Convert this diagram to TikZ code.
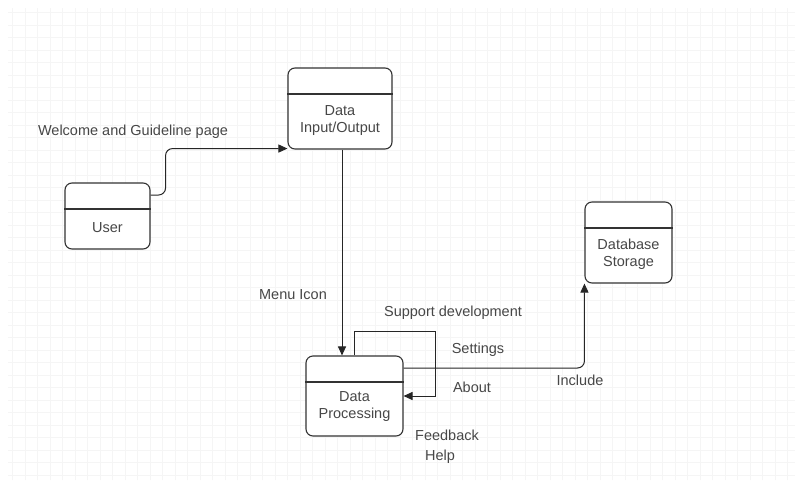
\documentclass[tikz,border=0pt]{standalone}
\usepackage{fontspec}
\setmainfont{Liberation Sans}
\usetikzlibrary{arrows.meta}

\begin{document}
\begin{tikzpicture}[
                x=1pt, y=-1pt,
                every node/.style={font=\fontsize{14.5}{17}\selectfont, text=black!72},
                procbox/.style={draw=black!80, line width=1.1pt, rounded corners=7pt, fill=white, inner sep=0pt},
                flow/.style={draw=black!85, line width=1pt, -{Triangle[length=9pt,width=8pt]}},
                note/.style={align=center}
            ]

            \useasboundingbox (0,0) rectangle (801,501);
            \fill[white] (0,0) rectangle (801,501);
            \draw[black!4, line width=0.6pt] (8,8) grid[step=12.5pt] (795,480);

            \node[procbox, minimum width=85pt, minimum height=66pt,
                label={[yshift=-12pt, align=center]center:User}] (user) at (107.5,216) {};
            \node[procbox, minimum width=104pt, minimum height=81pt,
                label={[yshift=-12pt, align=center]center:Data\\Input/Output}] (io) at (340,108.5) {};
            \node[procbox, minimum width=87pt, minimum height=81pt,
                label={[yshift=-12pt, align=center]center:Database\\Storage}] (db) at (628.5,242.5) {};
            \node[procbox, minimum width=97pt, minimum height=80pt,
                label={[yshift=-11pt, align=center]center:Data\\Processing}] (proc) at (354.5,396) {};

            \foreach \n in {user,io,db,proc}
                \draw[black!80, line width=1.1pt] ([yshift=-26.5pt]\n.north west) -- ([yshift=-26.5pt]\n.north east);

            \draw[flow, rounded corners=7pt] ([yshift=21pt]user.east) -- ++(15,0) |- ([yshift=1pt]io.south west);
            \draw[flow] ([xshift=2pt]io.south) -- ([xshift=2pt]io.south |- proc.north);
            \draw[flow] (proc.north) -- ++(0,-24) -- ++(81,0) |- (proc.east);
            \draw[flow, rounded corners=7pt] ([yshift=28pt]proc.east) -| (db.south west);

            \node[note] (welcome) at (133,132) {Welcome and Guideline page};
            \node[note] (menu) at (293,295) {Menu Icon};
            \node[note] (support) at (453,313) {Support development};
            \node[note] (settings) at (478,350) {Settings};
            \node[note] (about) at (472,387) {About};
            \node[note] (include) at (580,380) {Include};
            \node[note] (feedback) at (447,435) {Feedback};
            \node[note] (help) at (440,457) {Help};

        \end{tikzpicture}
\end{document}
